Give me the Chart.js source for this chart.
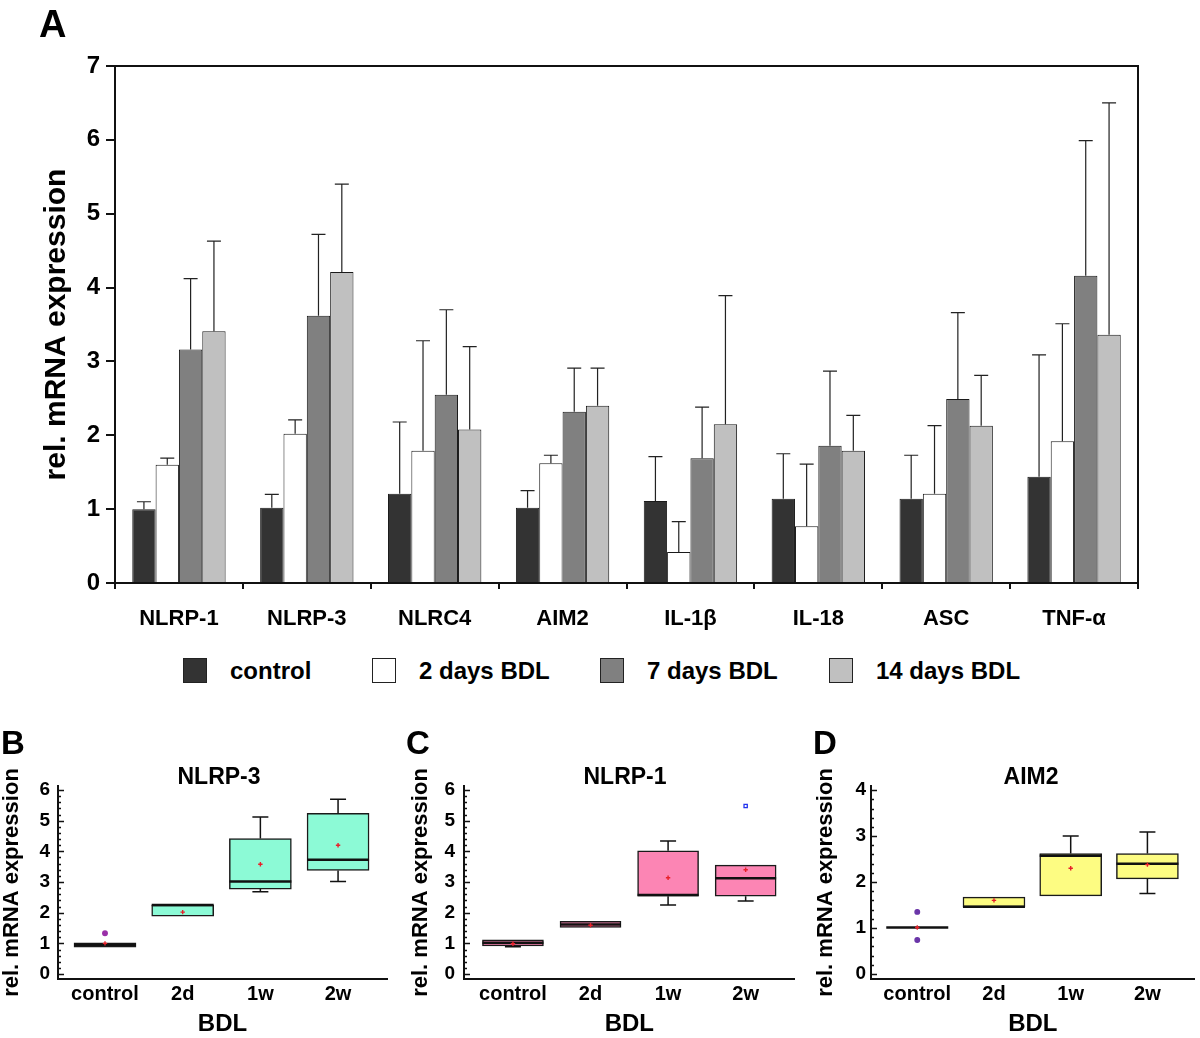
<!DOCTYPE html>
<html>
<head>
<meta charset="utf-8">
<title>Inflammasome mRNA expression</title>
<script src="https://cdn.jsdelivr.net/npm/chart.js@4.4.1/dist/chart.umd.min.js"></script>
<style>
  body { margin: 0; background: #fff; font-family: "Liberation Sans", Arial, Helvetica, sans-serif; }
  #page { position: relative; width: 1200px; height: 1038px; overflow: hidden; }
  canvas { position: absolute; }
  .tag { position: absolute; font-weight: bold; line-height: 1; color: #000; }
  .title { position: absolute; font-weight: bold; font-size: 23px; line-height: 1; transform: translate(-50%, -50%); white-space: nowrap; }
  .legend-item { position: absolute; top: 658px; height: 25px; display: flex; align-items: center; font-weight: bold; font-size: 24px; white-space: nowrap; }
  .legend-box { width: 22px; height: 23px; border: 1px solid #222; margin-right: 23px; }
</style>
</head>
<body>
<div id="page">
  <canvas id="chartA" width="1200" height="650" style="left:0;top:0"></canvas>
  <canvas id="chartB" width="400" height="338" style="left:0;top:700px"></canvas>
  <canvas id="chartC" width="400" height="338" style="left:400px;top:700px"></canvas>
  <canvas id="chartD" width="400" height="338" style="left:800px;top:700px"></canvas>

  <div class="tag" style="left:39px;top:5px;font-size:38px">A</div>
  <div class="tag" style="left:1px;top:726px;font-size:33px">B</div>
  <div class="tag" style="left:406px;top:726px;font-size:33px">C</div>
  <div class="tag" style="left:813px;top:726px;font-size:33px">D</div>

  <div class="title" style="left:219px;top:776px">NLRP-3</div>
  <div class="title" style="left:625px;top:776px">NLRP-1</div>
  <div class="title" style="left:1031px;top:776px">AIM2</div>

  <div id="legendA"></div>
</div>

<script>
// ---- panel A: mean + upper SD per gene ----
const genes = ['NLRP-1', 'NLRP-3', 'NLRC4', 'AIM2', 'IL-1β', 'IL-18', 'ASC', 'TNF-α'];
const seriesNames = ['control', '2 days BDL', '7 days BDL', '14 days BDL'];
const seriesColors = ['#333333', '#ffffff', '#808080', '#c0c0c0'];

const controlMean = [1.00, 1.02, 1.21, 1.02, 1.11, 1.14, 1.14, 1.44];
const controlErr  = [1.10, 1.20, 2.18, 1.25, 1.71, 1.75, 1.73, 3.09];
const bdl2dMean   = [1.60, 2.02, 1.79, 1.62, 0.42, 0.77, 1.21, 1.92];
const bdl2dErr    = [1.69, 2.21, 3.28, 1.73, 0.83, 1.61, 2.13, 3.51];
const bdl7dMean   = [3.16, 3.62, 2.55, 2.32, 1.69, 1.86, 2.49, 4.16];
const bdl7dErr    = [4.12, 4.72, 3.70, 2.91, 2.38, 2.87, 3.66, 5.99];
const bdl14dMean  = [3.41, 4.21, 2.08, 2.40, 2.15, 1.79, 2.13, 3.36];
const bdl14dErr   = [4.63, 5.40, 3.20, 2.91, 3.89, 2.27, 2.81, 6.50];

// ---- panels B-D: box plots over BDL time ----
const bdlGroups = ['control', '2d', '1w', '2w'];

const nlrp3Q1     = [0.88, 1.89, 2.77, 3.38];
const nlrp3Median = [0.96, 2.25, 3.02, 3.73];
const nlrp3Q3     = [1.02, 2.25, 4.42, 5.24];
const nlrp3Low    = [0.88, 1.89, 2.68, 3.02];
const nlrp3High   = [1.02, 2.25, 5.12, 5.70];
const nlrp3Mean   = [1.00, 2.02, 3.58, 4.20];
const nlrp3Outliers = [[1, 1.33]];

const nlrp1Q1     = [0.92, 1.52, 2.54, 2.54];
const nlrp1Median = [1.02, 1.62, 2.58, 3.12];
const nlrp1Q3     = [1.12, 1.72, 4.02, 3.55];
const nlrp1Low    = [0.89, 1.52, 2.25, 2.38];
const nlrp1High   = [1.12, 1.72, 4.34, 3.55];
const nlrp1Mean   = [0.99, 1.59, 3.14, 3.40];
const nlrp1Outliers = [[4, 5.48]];

const aim2Q1     = [1.01, 1.46, 1.70, 2.07];
const aim2Median = [1.01, 1.46, 2.57, 2.40];
const aim2Q3     = [1.01, 1.67, 2.62, 2.62];
const aim2Low    = [1.01, 1.46, 1.70, 1.75];
const aim2High   = [1.01, 1.67, 3.00, 3.09];
const aim2Mean   = [1.01, 1.60, 2.30, 2.38];
const aim2Outliers = [[1, 1.35], [1, 0.74]];

const yTicks6 = [0, 1, 2, 3, 4, 5, 6];
const yTicks4 = [0, 1, 2, 3, 4];

Chart.defaults.font.family = '"Liberation Sans", Arial, Helvetica, sans-serif';
Chart.defaults.font.weight = 'bold';
Chart.defaults.color = '#000';
Chart.defaults.animation = false;

// upper error whisker on every bar
const errorBars = {
    id: 'errorBars',
    afterDatasetsDraw(chart) {
        const { ctx, scales: { y } } = chart;
        ctx.save();
        ctx.strokeStyle = '#222';
        ctx.lineWidth = 1.2;
        chart.data.datasets.forEach((ds, i) => {
            chart.getDatasetMeta(i).data.forEach((bar, j) => {
                const top = y.getPixelForValue(ds.errTop[j]);
                ctx.beginPath();
                ctx.moveTo(bar.x, bar.y);
                ctx.lineTo(bar.x, top);
                ctx.moveTo(bar.x - 7, top);
                ctx.lineTo(bar.x + 7, top);
                ctx.stroke();
            });
        });
        ctx.restore();
    }
};

// top + right edges of the plot box
const frame = {
    id: 'frame',
    afterDraw(chart) {
        const { ctx, chartArea: { left, right, top, bottom } } = chart;
        ctx.save();
        ctx.strokeStyle = '#111';
        ctx.lineWidth = 2;
        ctx.beginPath();
        ctx.moveTo(left, top);
        ctx.lineTo(right, top);
        ctx.lineTo(right, bottom);
        ctx.stroke();
        ctx.restore();
    }
};

const meansA = [controlMean, bdl2dMean, bdl7dMean, bdl14dMean];
const errsA = [controlErr, bdl2dErr, bdl7dErr, bdl14dErr];

new Chart(document.getElementById('chartA'), {
    type: 'bar',
    data: {
        labels: genes,
        datasets: seriesNames.map((name, i) => ({
            label: name,
            data: meansA[i],
            errTop: errsA[i],
            backgroundColor: seriesColors[i],
            borderColor: '#1a1a1a',
            borderWidth: 1,
            categoryPercentage: 0.73,
            barPercentage: 1.0,
        })),
    },
    options: {
        responsive: false,
        layout: { padding: { left: 0, right: 62, top: 66, bottom: 0 } },
        plugins: { legend: { display: false }, tooltip: { enabled: false } },
        scales: {
            x: {
                grid: { drawOnChartArea: false, tickLength: 6, lineWidth: 2, color: '#111', offset: true },
                border: { color: '#111', width: 2 },
                ticks: { font: { size: 22, weight: 'bold' }, padding: 17, color: '#000' },
                afterFit: (s) => { s.height = 67; },
            },
            y: {
                min: 0,
                max: 7,
                ticks: { stepSize: 1, font: { size: 24, weight: 'bold' }, padding: 6, color: '#000' },
                grid: { drawOnChartArea: false, tickLength: 9, lineWidth: 2, color: '#111' },
                border: { color: '#111', width: 2 },
                title: {
                    display: true,
                    text: 'rel. mRNA expression',
                    font: { size: 30, weight: 'bold', lineHeight: 1 },
                    padding: { top: 42, bottom: 0 },
                    color: '#000',
                },
                afterFit: (s) => { s.width = 115; },
            },
        },
    },
    plugins: [errorBars, frame],
});

// legend for panel A
const legendLeft = [183, 372, 600, 829];
document.getElementById('legendA').innerHTML = seriesNames.map((name, i) => `
    <div class="legend-item" style="left:${legendLeft[i]}px">
        <span class="legend-box" style="background:${seriesColors[i]}"></span>${name}
    </div>`).join('');

// whiskers + median line, drawn right after the box bars
function boxPartsPlugin(s) {
    return {
        id: 'boxParts',
        afterDatasetDraw(chart, args) {
            if (args.index !== 0) return;
            const { ctx, scales: { x, y } } = chart;
            const half = s.boxWidth / 2;
            const cap = 8;
            ctx.save();
            ctx.strokeStyle = '#111';
            s.median.forEach((m, i) => {
                const cx = x.getPixelForValue(i + 1);
                ctx.lineWidth = 1.5;
                ctx.beginPath();
                if (s.high[i] > s.q3[i]) {
                    const yHi = y.getPixelForValue(s.high[i]);
                    ctx.moveTo(cx, y.getPixelForValue(s.q3[i]));
                    ctx.lineTo(cx, yHi);
                    ctx.moveTo(cx - cap, yHi);
                    ctx.lineTo(cx + cap, yHi);
                }
                if (s.low[i] < s.q1[i]) {
                    const yLo = y.getPixelForValue(s.low[i]);
                    ctx.moveTo(cx, y.getPixelForValue(s.q1[i]));
                    ctx.lineTo(cx, yLo);
                    ctx.moveTo(cx - cap, yLo);
                    ctx.lineTo(cx + cap, yLo);
                }
                ctx.stroke();
                const ym = y.getPixelForValue(m);
                ctx.lineWidth = 2.5;
                ctx.beginPath();
                ctx.moveTo(cx - half, ym);
                ctx.lineTo(cx + half, ym);
                ctx.stroke();
            });
            ctx.restore();
        }
    };
}

// y ticks pointing into the plot, minor every 0.2
const innerTicks = {
    id: 'innerTicks',
    afterDraw(chart) {
        const { ctx, scales: { y }, chartArea: { left } } = chart;
        ctx.save();
        ctx.strokeStyle = '#111';
        ctx.lineWidth = 1.5;
        ctx.beginPath();
        for (let k = 0; k <= y.max * 5 + 0.01; k++) {
            const v = k / 5;
            if (v > y.max) break;
            const py = Math.round(y.getPixelForValue(v)) + 0.5;
            const len = k % 5 === 0 ? 6 : 3;
            ctx.moveTo(left, py);
            ctx.lineTo(left + len, py);
        }
        ctx.stroke();
        ctx.restore();
    }
};

function boxChart(id, s) {
    new Chart(document.getElementById(id), {
        type: 'bar',
        data: {
            datasets: [
                {
                    data: s.q1.map((q, i) => ({ x: i + 1, y: [q, s.q3[i]] })),
                    backgroundColor: s.fill,
                    borderColor: '#1a1a1a',
                    borderWidth: 1.5,
                    borderSkipped: false,
                    barThickness: s.boxWidth,
                    order: 3,
                },
                {
                    type: 'scatter',
                    data: s.mean.map((m, i) => ({ x: i + 1, y: m })),
                    pointStyle: 'cross',
                    radius: 2.2,
                    borderColor: '#e8202a',
                    borderWidth: 1.4,
                    order: 1,
                },
                {
                    type: 'scatter',
                    data: s.outliers.map(([g, v]) => ({ x: g, y: v })),
                    pointStyle: s.outlierStyle,
                    radius: 2.3,
                    backgroundColor: s.outlierFill,
                    borderColor: s.outlierColor,
                    borderWidth: 1.3,
                    order: 0,
                },
            ],
        },
        options: {
            responsive: false,
            layout: { padding: { left: 0, right: s.padRight, top: 86, bottom: 0 } },
            plugins: { legend: { display: false }, tooltip: { enabled: false } },
            scales: {
                x: {
                    type: 'linear',
                    offset: false,
                    min: s.xMin,
                    max: s.xMax,
                    grid: { display: false, drawTicks: false, offset: false },
                    border: { color: '#111', width: 2 },
                    afterBuildTicks: (sc) => { sc.ticks = bdlGroups.map((g, i) => ({ value: i + 1 })); },
                    ticks: {
                        callback: (v) => bdlGroups[v - 1],
                        font: { size: 20, weight: 'bold' },
                        padding: 3,
                        color: '#000',
                        maxRotation: 0,
                    },
                    title: {
                        display: true,
                        text: 'BDL',
                        font: { size: 24, weight: 'bold', lineHeight: 1 },
                        padding: { top: 0, bottom: 2 },
                        color: '#000',
                    },
                    afterFit: (sc) => { sc.height = 59; },
                },
                y: {
                    min: s.yMin,
                    max: s.yMax,
                    afterBuildTicks: (sc) => { sc.ticks = s.yTicks.map((v) => ({ value: v })); },
                    grid: { display: false, drawTicks: false },
                    border: { color: '#111', width: 2 },
                    ticks: { font: { size: 19, weight: 'bold' }, padding: s.labelPad, color: '#000' },
                    title: {
                        display: true,
                        text: 'rel. mRNA expression',
                        font: { size: 22, weight: 'bold', lineHeight: 1 },
                        padding: { top: s.titlePad, bottom: 0 },
                        color: '#000',
                    },
                    afterFit: (sc) => { sc.width = s.axisLeft; },
                },
            },
        },
        plugins: [boxPartsPlugin(s), innerTicks],
    });
}

boxChart('chartB', {
    q1: nlrp3Q1, q3: nlrp3Q3, median: nlrp3Median, low: nlrp3Low, high: nlrp3High,
    mean: nlrp3Mean, outliers: nlrp3Outliers, yTicks: yTicks6,
    fill: 'rgb(140, 250, 214)', outlierStyle: 'circle', outlierFill: '#9a2fa8', outlierColor: '#9a2fa8',
    boxWidth: 62, axisLeft: 58, padRight: 13, titlePad: 1, labelPad: 8,
    xMin: 0.395, xMax: 4.63, yMin: -0.16, yMax: 6.13,
});

boxChart('chartC', {
    q1: nlrp1Q1, q3: nlrp1Q3, median: nlrp1Median, low: nlrp1Low, high: nlrp1High,
    mean: nlrp1Mean, outliers: nlrp1Outliers, yTicks: yTicks6,
    fill: 'rgb(252, 133, 180)', outlierStyle: 'rect', outlierFill: 'rgba(0,0,0,0)', outlierColor: '#2233ee',
    boxWidth: 61, axisLeft: 64, padRight: 5, titlePad: 10, labelPad: 9,
    xMin: 0.369, xMax: 4.631, yMin: -0.16, yMax: 6.13,
});

boxChart('chartD', {
    q1: aim2Q1, q3: aim2Q3, median: aim2Median, low: aim2Low, high: aim2High,
    mean: aim2Mean, outliers: aim2Outliers, yTicks: yTicks4,
    fill: 'rgb(253, 252, 130)', outlierStyle: 'circle', outlierFill: '#6a35a8', outlierColor: '#6a35a8',
    boxWidth: 62, axisLeft: 71, padRight: 0, titlePad: 15, labelPad: 5,
    xMin: 0.397, xMax: 4.615, yMin: -0.11, yMax: 4.09,
});
</script>
</body>
</html>
